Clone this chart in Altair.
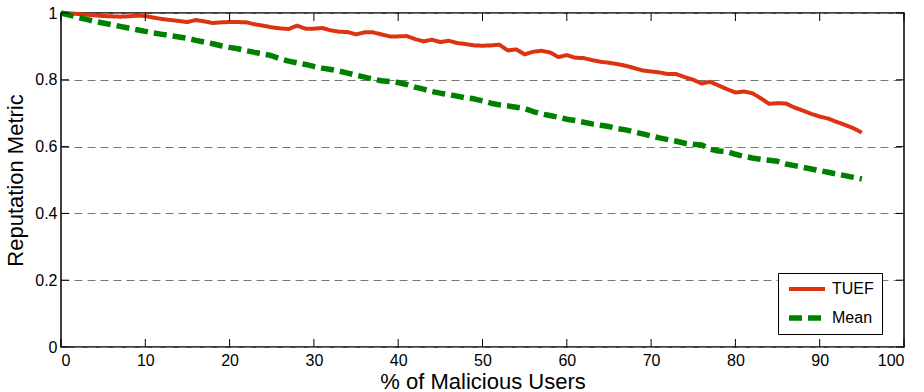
import altair as alt
import pandas as pd

x_vals = list(range(0, 96))

tuef = [1.000, 0.999, 0.997, 0.995, 0.993, 0.991, 0.990, 0.989, 0.990, 0.992,
        0.991, 0.986, 0.982, 0.979, 0.976, 0.973, 0.979, 0.975, 0.970, 0.972,
        0.973, 0.973, 0.972, 0.966, 0.962, 0.957, 0.954, 0.952, 0.962, 0.953,
        0.953, 0.955, 0.948, 0.944, 0.943, 0.936, 0.942, 0.942, 0.936, 0.930,
        0.930, 0.931, 0.922, 0.915, 0.920, 0.913, 0.917, 0.910, 0.907, 0.903,
        0.902, 0.903, 0.905, 0.888, 0.891, 0.876, 0.884, 0.887, 0.882, 0.868,
        0.874, 0.866, 0.865, 0.859, 0.854, 0.851, 0.847, 0.842, 0.835, 0.828,
        0.825, 0.822, 0.817, 0.817, 0.808, 0.800, 0.789, 0.794, 0.783, 0.772,
        0.762, 0.765, 0.760, 0.745, 0.728, 0.730, 0.729, 0.717, 0.708, 0.698,
        0.690, 0.684, 0.674, 0.665, 0.655, 0.642]

mean = [1.000, 0.994, 0.987, 0.981, 0.975, 0.970, 0.965, 0.960, 0.955, 0.950,
        0.945, 0.940, 0.936, 0.932, 0.928, 0.924, 0.918, 0.913, 0.908, 0.902,
        0.897, 0.893, 0.887, 0.882, 0.878, 0.872, 0.863, 0.856, 0.851, 0.846,
        0.840, 0.835, 0.831, 0.826, 0.820, 0.814, 0.808, 0.802, 0.797, 0.795,
        0.792, 0.786, 0.778, 0.772, 0.765, 0.760, 0.756, 0.751, 0.746, 0.743,
        0.737, 0.730, 0.725, 0.722, 0.718, 0.714, 0.705, 0.698, 0.693, 0.688,
        0.682, 0.678, 0.673, 0.668, 0.664, 0.660, 0.654, 0.650, 0.644, 0.638,
        0.632, 0.626, 0.621, 0.616, 0.610, 0.607, 0.605, 0.592, 0.587, 0.585,
        0.577, 0.571, 0.566, 0.562, 0.559, 0.556, 0.548, 0.543, 0.538, 0.533,
        0.528, 0.523, 0.518, 0.513, 0.508, 0.503]

series_names = ["TUEF", "Mean"]
x_ticks = [0, 10, 20, 30, 40, 50, 60, 70, 80, 90, 100]
y_ticks = [0, 0.2, 0.4, 0.6, 0.8, 1.0]

W, H = 843, 334
TICK = 8

df = pd.DataFrame({
    "x": x_vals * 2,
    "y": tuef + mean,
    "series": ["TUEF"] * len(x_vals) + ["Mean"] * len(x_vals),
})
xt = pd.DataFrame({"x": x_ticks})
yt = pd.DataFrame({"y": y_ticks})

FONT = "Liberation Sans"
NBSP = "\u00a0"

xscale = alt.Scale(domain=[0, 100], nice=False, zero=False)
yscale = alt.Scale(domain=[0, 1], nice=False, zero=False)

lines = alt.Chart(df).mark_line(strokeCap="butt", strokeJoin="round").encode(
    x=alt.X("x:Q", scale=xscale,
            axis=alt.Axis(values=x_ticks, title="% of Malicious Users", grid=False,
                          domain=False, ticks=False, labelPadding=5,
                          labelFontSize=16, titleFontSize=22, titlePadding=3,
                          labelFont=FONT, titleFont=FONT, labelColor="black",
                          titleColor="black", titleFontWeight="normal")),
    y=alt.Y("y:Q", scale=yscale,
            axis=alt.Axis(values=y_ticks, title="Reputation Metric", grid=True,
                          gridDash=[8, 5], gridColor="#777777", gridWidth=1,
                          domain=False, ticks=False, labelPadding=4,
                          labelFontSize=16, titleFontSize=22, titlePadding=7,
                          labelFont=FONT, titleFont=FONT, labelColor="black",
                          titleColor="black", titleFontWeight="normal",
                          labelExpr="datum.value == 0 ? '0' : datum.value == 1 ? '1' : format(datum.value, '.1f')")),
    color=alt.Color("series:N",
                    scale=alt.Scale(domain=series_names, range=["#dd3311", "#008000"]),
                    legend=alt.Legend(title=None, orient="none", legendX=717, legendY=260,
                                      symbolType="stroke", symbolSize=1296,
                                      symbolStrokeWidth=4.5, labelFontSize=16,
                                      labelFont=FONT, labelColor="black",
                                      labelOffset=4, padding=8, rowPadding=13,
                                      clipHeight=16,
                                      strokeColor="black", fillColor="white",
                                      labelExpr="datum.label + '" + NBSP * 2 + "'")),
    strokeDash=alt.StrokeDash("series:N",
                              scale=alt.Scale(domain=series_names, range=[[1, 0], [13, 6]]),
                              legend=alt.Legend(title=None)),
    strokeWidth=alt.StrokeWidth("series:N",
                                scale=alt.Scale(domain=series_names, range=[4, 5.5]),
                                legend=None),
)

tick_bottom = alt.Chart(xt).mark_rule(color="black", strokeWidth=1).encode(
    x=alt.X("x:Q", scale=xscale), y=alt.value(H), y2=alt.value(H - TICK))
tick_top = alt.Chart(xt).mark_rule(color="black", strokeWidth=1).encode(
    x=alt.X("x:Q", scale=xscale), y=alt.value(0), y2=alt.value(TICK))
tick_left = alt.Chart(yt).mark_rule(color="black", strokeWidth=1).encode(
    y=alt.Y("y:Q", scale=yscale), x=alt.value(0), x2=alt.value(TICK))
tick_right = alt.Chart(yt).mark_rule(color="black", strokeWidth=1).encode(
    y=alt.Y("y:Q", scale=yscale), x=alt.value(W), x2=alt.value(W - TICK))

chart = alt.layer(lines, tick_bottom, tick_top, tick_left, tick_right).properties(
    width=W, height=H,
    autosize=alt.AutoSizeParams(type="none"),
    padding={"left": 61, "top": 13, "right": 924 - 61 - W, "bottom": 392 - 13 - H},
    background="white",
).configure_view(stroke="black", strokeWidth=1.5)

chart.save("out.html", embed_options={"renderer": "svg", "actions": False})
